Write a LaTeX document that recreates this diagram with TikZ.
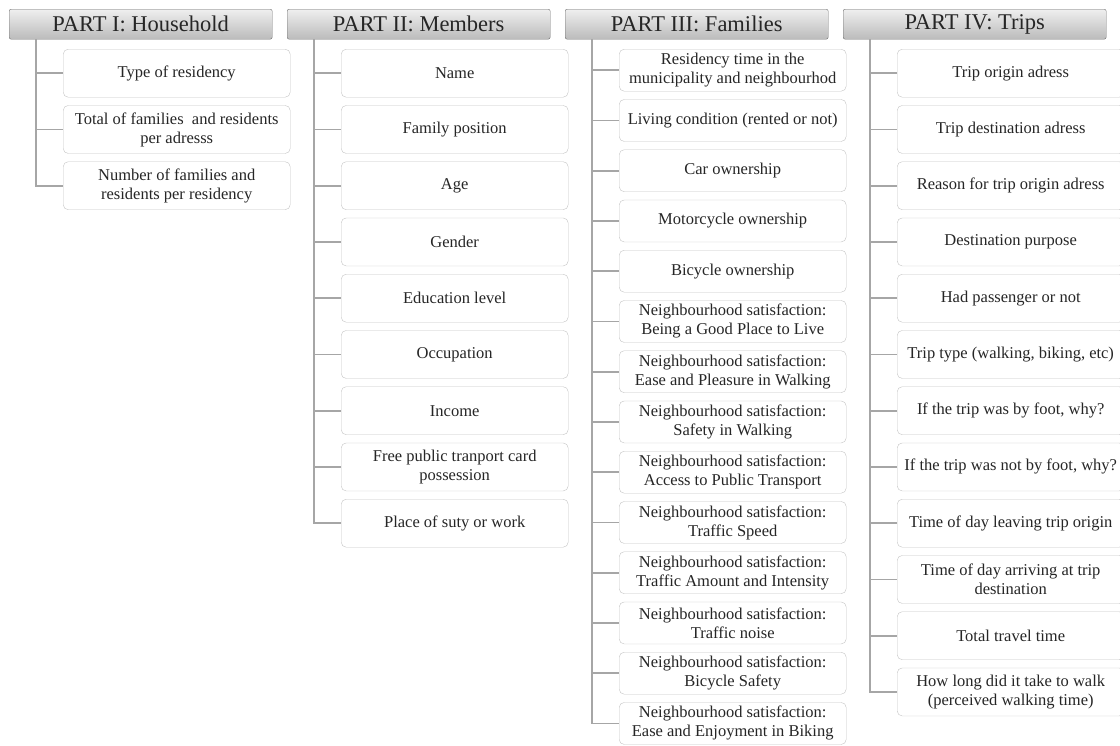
\documentclass[tikz,border=0pt]{standalone}
\usepackage{fontspec}
\setmainfont{Liberation Serif}
\definecolor{headtop}{HTML}{EFEFEF}
\definecolor{headbot}{HTML}{BBBBBB}
\definecolor{headline}{HTML}{6F6F6F}
\definecolor{itemline}{HTML}{C4C4C4}
\definecolor{treeline}{HTML}{A6A6A6}
\begin{document}
\begin{tikzpicture}[x=1pt, y=-1pt,
    part/.style={draw=headline, rounded corners=2pt, top color=headtop, bottom color=headbot, minimum width=263pt, minimum height=30pt, anchor=north west, inner sep=0pt, font=\fontsize{22.5}{27}\selectfont, text=black!85},
    item/.style={draw=itemline, fill=white, rounded corners=5pt, minimum width=227pt, minimum height=48pt, anchor=north west, align=center, inner sep=2pt, font=\fontsize{16.5}{19}\selectfont, text=black!85},
    fam/.style={item, minimum height=42pt},
    branch/.style={draw=treeline, line width=1.6pt}]
\useasboundingbox (0,0) rectangle (1120,745);

% part headers
\node[part] (h1) at (9,9) {PART I: Household};
\node[part] (h2) at (287,9) {PART II: Members};
\node[part] (h3) at (565,9) {PART III: Families};
\node[part] (h4) at (843,9) {PART IV: Trips};

% part I
\node[item] (a1) at (63,49) {Type of residency};
\node[item] (a2) at (63,105.25) {Total of families \ and residents\\per adresss};
\node[item] (a3) at (63,161.5) {Number of families and\\residents per residency};

% part II
\node[item] (b1) at (341,49) {Name};
\node[item] (b2) at (341,105.25) {Family position};
\node[item] (b3) at (341,161.5) {Age};
\node[item] (b4) at (341,217.75) {Gender};
\node[item] (b5) at (341,274) {Education level};
\node[item] (b6) at (341,330.25) {Occupation};
\node[item] (b7) at (341,386.5) {Income};
\node[item] (b8) at (341,442.75) {Free public tranport card\\possession};
\node[item] (b9) at (341,499) {Place of suty or work};

% part III
\node[fam] (c1) at (619,49) {Residency time in the\\municipality and neighbourhod};
\node[fam] (c2) at (619,99.25) {Living condition (rented or not)};
\node[fam] (c3) at (619,149.5) {Car ownership};
\node[fam] (c4) at (619,199.75) {Motorcycle ownership};
\node[fam] (c5) at (619,250) {Bicycle ownership};
\node[fam] (c6) at (619,300.25) {Neighbourhood satisfaction:\\Being a Good Place to Live};
\node[fam] (c7) at (619,350.5) {Neighbourhood satisfaction:\\Ease and Pleasure in Walking};
\node[fam] (c8) at (619,400.75) {Neighbourhood satisfaction:\\Safety in Walking};
\node[fam] (c9) at (619,451) {Neighbourhood satisfaction:\\Access to Public Transport};
\node[fam] (c10) at (619,501.25) {Neighbourhood satisfaction:\\Traffic Speed};
\node[fam] (c11) at (619,551.5) {Neighbourhood satisfaction:\\Traffic Amount and Intensity};
\node[fam] (c12) at (619,601.75) {Neighbourhood satisfaction:\\Traffic noise};
\node[fam] (c13) at (619,652) {Neighbourhood satisfaction:\\Bicycle Safety};
\node[fam] (c14) at (619,702.25) {Neighbourhood satisfaction:\\Ease and Enjoyment in Biking};

% part IV
\node[item] (d1) at (897,49) {Trip origin adress};
\node[item] (d2) at (897,105.25) {Trip destination adress};
\node[item] (d3) at (897,161.5) {Reason for trip origin adress};
\node[item] (d4) at (897,217.75) {Destination purpose};
\node[item] (d5) at (897,274) {Had passenger or not};
\node[item] (d6) at (897,330.25) {Trip type (walking, biking, etc)};
\node[item] (d7) at (897,386.5) {If the trip was by foot, why?};
\node[item] (d8) at (897,442.75) {If the trip was not by foot, why?};
\node[item] (d9) at (897,499) {Time of day leaving trip origin};
\node[item] (d10) at (897,555.25) {Time of day arriving at trip\\destination};
\node[item] (d11) at (897,611.5) {Total travel time};
\node[item] (d12) at (897,667.75) {How long did it take to walk\\(perceived walking time)};

% tree lines
\foreach \i in {1,...,3}
  \draw[branch] ([xshift=27pt]h1.south west) |- (a\i.west);
\foreach \i in {1,...,9}
  \draw[branch] ([xshift=27pt]h2.south west) |- (b\i.west);
\foreach \i in {1,...,14}
  \draw[branch] ([xshift=27pt]h3.south west) |- (c\i.west);
\foreach \i in {1,...,12}
  \draw[branch] ([xshift=27pt]h4.south west) |- (d\i.west);
\end{tikzpicture}
\end{document}
